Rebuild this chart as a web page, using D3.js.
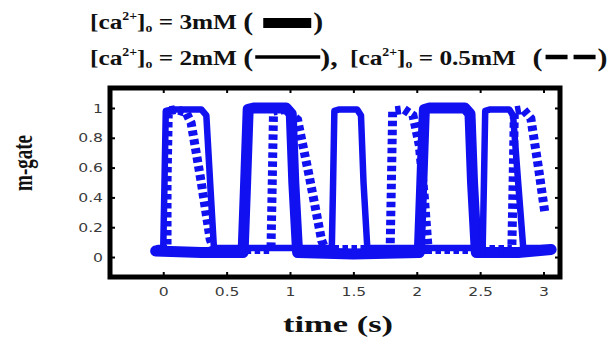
<!DOCTYPE html>
<html>
<head>
<meta charset="utf-8">
<script src="https://cdn.jsdelivr.net/npm/d3@7"></script>
<style>
  body { margin: 0; background: #fff; }
  svg { display: block; }
</style>
</head>
<body>
<svg id="chart" width="615" height="338"></svg>
<script>
// tick values
const xTicks = [0, 0.5, 1, 1.5, 2, 2.5, 3];
const yTicks = [0, 0.2, 0.4, 0.6, 0.8, 1];

// m-gate traces, [time (s), m]
const ca3mM = [
  [-0.06, 0.04], [0.3, 0.03], [0.63, 0.03], [0.65, 0.5], [0.67, 0.99], [0.72, 1.0],
  [0.97, 1.0], [1.01, 0.96], [1.03, 0.5], [1.06, 0.03], [1.5, 0.02], [2.02, 0.03],
  [2.04, 0.5], [2.06, 0.99], [2.1, 1.0], [2.38, 1.0], [2.42, 0.96], [2.44, 0.5],
  [2.47, 0.03], [2.8, 0.03], [3.06, 0.05]
];
const ca2mM = [
  [-0.04, 0.06], [0.0, 0.06], [0.01, 0.5], [0.02, 0.98], [0.07, 0.99], [0.3, 0.99],
  [0.34, 0.95], [0.37, 0.5], [0.4, 0.06], [1.0, 0.06], [1.33, 0.06], [1.34, 0.5],
  [1.35, 0.98], [1.39, 0.99], [1.53, 0.99], [1.56, 0.95], [1.58, 0.5], [1.61, 0.06],
  [2.2, 0.06], [2.52, 0.06], [2.53, 0.5], [2.54, 0.98], [2.58, 0.99], [2.73, 0.99],
  [2.76, 0.95], [2.8, 0.5], [2.84, 0.06], [3.05, 0.06]
];
const ca05mM = [
  [0.0, 0.05], [0.03, 0.05], [0.03, 0.5], [0.04, 0.98], [0.1, 0.99], [0.18, 0.97],
  [0.22, 0.9], [0.3, 0.5], [0.37, 0.12], [0.4, 0.05], [0.85, 0.05], [0.86, 0.5],
  [0.87, 0.98], [0.97, 0.99], [1.06, 0.92], [1.15, 0.55], [1.25, 0.11], [1.28, 0.05],
  [1.79, 0.05], [1.8, 0.5], [1.81, 0.98], [1.9, 0.99], [1.97, 0.95], [2.02, 0.75],
  [2.06, 0.4], [2.09, 0.05], [2.75, 0.05], [2.76, 0.5], [2.77, 0.98], [2.84, 0.99],
  [2.9, 0.93], [2.96, 0.6], [3.01, 0.3]
];

const blue = "#1010f0";
const svg = d3.select("#chart");

const plotLeft = 110, plotRight = 560, plotTop = 88, plotBottom = 277;

const x = d3.scaleLinear().domain([-0.42, 3.13]).range([plotLeft, plotRight]);
const y = d3.scaleLinear().domain([-0.134, 1.134]).range([plotBottom, plotTop]);

const line = d3.line().x(d => x(d[0])).y(d => y(d[1]));

const plot = svg.append("g");

plot.append("path").datum(ca3mM)
  .attr("d", line).attr("fill", "none")
  .attr("stroke", blue).attr("stroke-width", 11)
  .attr("stroke-linejoin", "round").attr("stroke-linecap", "round");

plot.append("path").datum(ca05mM)
  .attr("d", line).attr("fill", "none")
  .attr("stroke", blue).attr("stroke-width", 9)
  .attr("stroke-dasharray", "5.5,3.5")
  .attr("stroke-linejoin", "miter");

plot.append("path").datum(ca2mM)
  .attr("d", line).attr("fill", "none")
  .attr("stroke", blue).attr("stroke-width", 6.5)
  .attr("stroke-linejoin", "round").attr("stroke-linecap", "round");

// axes (ticks inward like matlab)
const tickFont = "DejaVu Sans, Arial, sans-serif";
const sxTick = 1.2;

const xAxis = svg.append("g")
  .attr("transform", "translate(0," + plotBottom + ")")
  .call(d3.axisBottom(x).tickValues(xTicks).tickSize(-5).tickPadding(10)
        .tickFormat(d3.format("")));
const yAxis = svg.append("g")
  .attr("transform", "translate(" + plotLeft + ",0)")
  .call(d3.axisLeft(y).tickValues(yTicks).tickSize(-5).tickPadding(7)
        .tickFormat(d3.format("")));
svg.append("g")
  .attr("transform", "translate(0," + plotTop + ")")
  .call(d3.axisTop(x).tickValues(xTicks).tickSize(-5).tickFormat(""));
svg.append("g")
  .attr("transform", "translate(" + plotRight + ",0)")
  .call(d3.axisRight(y).tickValues(yTicks).tickSize(-5).tickFormat(""));

svg.selectAll(".domain").remove();
svg.selectAll(".tick line").attr("stroke", "#000").attr("stroke-width", 2);

xAxis.selectAll("text")
  .attr("font-family", tickFont).attr("font-size", 13).attr("fill", "#3a3a3a")
  .attr("transform", "scale(" + sxTick + ",1)");
yAxis.selectAll("text")
  .attr("font-family", tickFont).attr("font-size", 13).attr("fill", "#3a3a3a")
  .attr("x", -7 / sxTick)
  .attr("transform", "scale(" + sxTick + ",1)");

// thick border
svg.append("rect")
  .attr("x", plotLeft).attr("y", plotTop)
  .attr("width", plotRight - plotLeft).attr("height", plotBottom - plotTop)
  .attr("fill", "none").attr("stroke", "#000").attr("stroke-width", 5);

// axis titles
const serif = "Liberation Serif, Times New Roman, serif";

svg.append("text")
  .attr("transform", "translate(338,332) scale(1.5,1)")
  .attr("text-anchor", "middle")
  .attr("font-family", serif).attr("font-weight", "bold").attr("font-size", 23)
  .attr("fill", "#111")
  .text("time (s)");

svg.append("text")
  .attr("transform", "translate(32,163) scale(1.4,1) rotate(-90)")
  .attr("text-anchor", "middle")
  .attr("font-family", serif).attr("font-weight", "bold").attr("font-size", 19)
  .attr("fill", "#111")
  .text("m-gate");

// legend text
const legendSize = 22;
const sxLeg = 1.15;

function legendText(xPos, yPos, value, parenGap) {
  const gap = parenGap || 0;
  const t = svg.append("text")
    .attr("transform", "translate(" + xPos + "," + yPos + ") scale(" + sxLeg + ",1)")
    .attr("font-family", serif).attr("font-weight", "bold")
    .attr("font-size", legendSize).attr("fill", "#111");
  t.append("tspan").text("[ca");
  t.append("tspan").attr("font-size", 12).attr("dy", -9).text("2+");
  t.append("tspan").attr("dy", 9).text("]");
  t.append("tspan").attr("font-size", 12).attr("dy", 3).text("o");
  t.append("tspan").attr("dy", -3).text(" = " + value + " ");
  t.append("tspan").attr("font-size", 26).attr("dy", 1).attr("dx", gap).text("(");
  return xPos + (t.node().getComputedTextLength() + gap) * sxLeg;
}

function closeParen(xPos, yPos, extra) {
  const t = svg.append("text")
    .attr("transform", "translate(" + xPos + "," + (yPos + 1) + ") scale(" + sxLeg + ",1)")
    .attr("font-family", serif).attr("font-weight", "bold")
    .attr("font-size", 26).attr("fill", "#111")
    .text(")" + (extra || ""));
  return xPos + t.node().getComputedTextLength() * sxLeg;
}

// line 1: 3mM, filled block
let lx = legendText(90, 29, "3mM");
svg.append("rect").attr("x", lx + 10).attr("y", 18).attr("width", 48).attr("height", 10).attr("fill", "#000");
closeParen(lx + 60, 29);

// line 2: 2mM solid, 0.5mM dashed
lx = legendText(90, 65, "2mM");
svg.append("line").attr("x1", lx + 2).attr("x2", lx + 67).attr("y1", 57).attr("y2", 57)
  .attr("stroke", "#000").attr("stroke-width", 3.5);
closeParen(lx + 67, 65, ",");
lx = legendText(350, 65, "0.5mM", 9);
svg.append("line").attr("x1", lx + 3).attr("x2", lx + 53).attr("y1", 57).attr("y2", 57)
  .attr("stroke", "#000").attr("stroke-width", 4.5).attr("stroke-dasharray", "22,6");
closeParen(lx + 55, 65);
</script>
</body>
</html>
